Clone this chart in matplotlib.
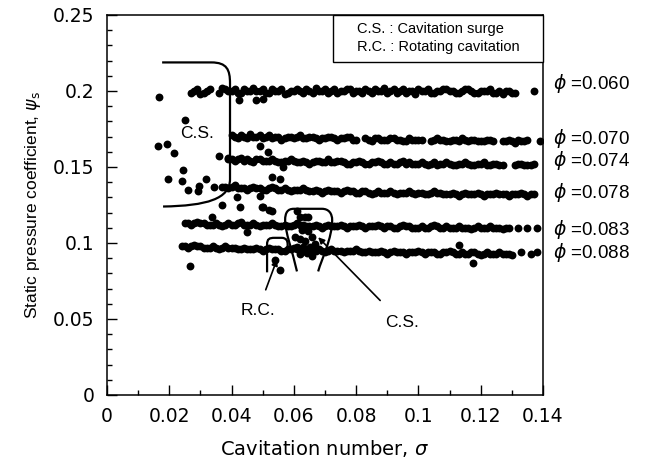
import matplotlib
matplotlib.use("Agg")
from matplotlib import pyplot as plt
from matplotlib.path import Path
from matplotlib.patches import PathPatch, Rectangle
from matplotlib.ticker import MultipleLocator

# 各流量係数ごとの測定点 (キャビテーション数 sigma, 静圧係数 psi_s)
# 帯が太く見えるので a / b の2列に分けて読み取った
sigma_060 = [0.027, 0.029, 0.030, 0.032, 0.033, 0.036, 0.037, 0.039, 0.041,
             0.043, 0.045, 0.047, 0.049, 0.051, 0.053, 0.055, 0.057, 0.059, 0.061,
             0.063, 0.065, 0.067, 0.069, 0.071, 0.073, 0.075, 0.077, 0.079, 0.081,
             0.083, 0.085, 0.087, 0.089, 0.091, 0.093, 0.095, 0.097, 0.099, 0.101,
             0.103, 0.105, 0.107, 0.109, 0.111, 0.113, 0.115, 0.117, 0.119, 0.121,
             0.123, 0.125, 0.127, 0.129, 0.131, 0.137]
psi_060 = [0.199, 0.201, 0.198, 0.200, 0.201, 0.199, 0.202, 0.200, 0.201, 0.199,
           0.200, 0.202, 0.200, 0.199, 0.201, 0.200, 0.198, 0.200, 0.201, 0.199,
           0.200, 0.202, 0.200, 0.199, 0.201, 0.200, 0.201, 0.199, 0.200, 0.201,
           0.199, 0.200, 0.202, 0.200, 0.199, 0.201, 0.200, 0.198, 0.200, 0.201,
           0.199, 0.200, 0.201, 0.200, 0.199, 0.201, 0.200, 0.199, 0.200, 0.201,
           0.199, 0.198, 0.200, 0.199, 0.200]
sigma_060b = [0.028, 0.031, 0.038, 0.040, 0.042, 0.044, 0.046, 0.048, 0.050, 0.052,
              0.054, 0.056, 0.058, 0.060, 0.062, 0.064, 0.066, 0.068, 0.070, 0.072,
              0.074, 0.076, 0.078, 0.080, 0.082, 0.084, 0.086, 0.088, 0.090, 0.092,
              0.094, 0.096, 0.098, 0.100, 0.102, 0.104, 0.106, 0.108, 0.110, 0.112,
              0.114, 0.116, 0.118, 0.120, 0.122, 0.124, 0.126, 0.128, 0.130]
psi_060b = [0.200, 0.199, 0.201, 0.200, 0.199, 0.201, 0.200, 0.200, 0.201, 0.199,
            0.200, 0.201, 0.199, 0.200, 0.200, 0.201, 0.199, 0.200, 0.201, 0.200,
            0.199, 0.200, 0.201, 0.200, 0.199, 0.200, 0.201, 0.200, 0.199, 0.201,
            0.200, 0.199, 0.200, 0.201, 0.200, 0.199, 0.200, 0.201, 0.200, 0.199,
            0.200, 0.201, 0.199, 0.200, 0.200, 0.199, 0.200, 0.200, 0.199]

sigma_070 = [0.040, 0.042, 0.044, 0.046, 0.048, 0.050, 0.052, 0.054, 0.056, 0.058,
             0.060, 0.062, 0.064, 0.066, 0.068, 0.070, 0.072, 0.074, 0.076, 0.078,
             0.080, 0.083, 0.085, 0.087, 0.089, 0.091, 0.093, 0.095, 0.097, 0.099,
             0.101, 0.104, 0.106, 0.108, 0.110, 0.112, 0.114, 0.116, 0.118, 0.120,
             0.122, 0.124, 0.127, 0.129, 0.131, 0.133, 0.135, 0.139]
psi_070 = [0.171, 0.169, 0.170, 0.172, 0.170, 0.169, 0.171, 0.170, 0.168, 0.170,
           0.169, 0.171, 0.169, 0.170, 0.168, 0.169, 0.170, 0.168, 0.169, 0.170,
           0.168, 0.169, 0.167, 0.169, 0.168, 0.169, 0.168, 0.167, 0.169, 0.168,
           0.168, 0.167, 0.169, 0.168, 0.167, 0.168, 0.169, 0.167, 0.168, 0.167,
           0.168, 0.167, 0.167, 0.168, 0.166, 0.167, 0.168, 0.167]
sigma_070b = [0.041, 0.043, 0.045, 0.047, 0.049, 0.051, 0.053, 0.055, 0.057, 0.059,
              0.061, 0.063, 0.065, 0.067, 0.069, 0.071, 0.073, 0.075, 0.077, 0.079,
              0.084, 0.086, 0.088, 0.090, 0.092, 0.094, 0.096, 0.098, 0.100,
              0.105, 0.107, 0.109, 0.111, 0.113, 0.115, 0.117, 0.119, 0.121, 0.123,
              0.128, 0.130, 0.132, 0.134]
psi_070b = [0.170, 0.171, 0.169, 0.170, 0.171, 0.170, 0.169, 0.170, 0.169, 0.170,
            0.170, 0.169, 0.170, 0.169, 0.169, 0.170, 0.169, 0.169, 0.170, 0.168,
            0.168, 0.169, 0.168, 0.168, 0.169, 0.168, 0.167, 0.168, 0.168,
            0.168, 0.168, 0.167, 0.168, 0.167, 0.168, 0.168, 0.167, 0.167, 0.168,
            0.167, 0.167, 0.168, 0.167]

sigma_074 = [0.039, 0.041, 0.043, 0.045, 0.047, 0.049, 0.051, 0.053, 0.055, 0.057,
             0.059, 0.061, 0.063, 0.065, 0.067, 0.069, 0.071, 0.073, 0.075, 0.077,
             0.079, 0.081, 0.083, 0.085, 0.087, 0.089, 0.091, 0.093, 0.095, 0.097,
             0.099, 0.101, 0.103, 0.105, 0.107, 0.109, 0.111, 0.113, 0.115, 0.117,
             0.119, 0.121, 0.123, 0.125, 0.127, 0.131, 0.133, 0.135, 0.137]
psi_074 = [0.155, 0.154, 0.156, 0.155, 0.153, 0.155, 0.154, 0.155, 0.153, 0.154,
           0.155, 0.153, 0.154, 0.152, 0.154, 0.153, 0.155, 0.153, 0.154, 0.152,
           0.153, 0.154, 0.152, 0.153, 0.154, 0.152, 0.153, 0.152, 0.154, 0.153,
           0.152, 0.153, 0.151, 0.153, 0.152, 0.153, 0.151, 0.152, 0.153, 0.151,
           0.152, 0.153, 0.151, 0.152, 0.151, 0.151, 0.152, 0.151, 0.152]
sigma_074b = [0.040, 0.042, 0.044, 0.046, 0.048, 0.050, 0.052, 0.054, 0.056, 0.058,
              0.060, 0.062, 0.064, 0.066, 0.068, 0.070, 0.072, 0.074, 0.076, 0.078,
              0.080, 0.082, 0.084, 0.086, 0.088, 0.090, 0.092, 0.094, 0.096, 0.098,
              0.100, 0.102, 0.104, 0.106, 0.108, 0.110, 0.112, 0.114, 0.116, 0.118,
              0.120, 0.122, 0.124, 0.126, 0.132, 0.134, 0.136]
psi_074b = [0.155, 0.155, 0.154, 0.154, 0.155, 0.154, 0.154, 0.154, 0.153, 0.154,
            0.154, 0.153, 0.153, 0.153, 0.154, 0.153, 0.153, 0.154, 0.153, 0.152,
            0.153, 0.153, 0.152, 0.153, 0.153, 0.152, 0.152, 0.153, 0.152, 0.152,
            0.152, 0.152, 0.152, 0.151, 0.152, 0.152, 0.151, 0.152, 0.152, 0.151,
            0.152, 0.151, 0.152, 0.151, 0.152, 0.151, 0.151]

sigma_078 = [0.037, 0.039, 0.041, 0.043, 0.045, 0.047, 0.049, 0.051, 0.053, 0.055,
             0.057, 0.059, 0.061, 0.063, 0.065, 0.067, 0.069, 0.071, 0.073, 0.075,
             0.077, 0.079, 0.081, 0.083, 0.085, 0.087, 0.089, 0.091, 0.093, 0.095,
             0.097, 0.099, 0.101, 0.103, 0.105, 0.107, 0.109, 0.111, 0.113, 0.115,
             0.117, 0.119, 0.121, 0.123, 0.125, 0.127, 0.129, 0.131, 0.133, 0.135,
             0.137]
psi_078 = [0.137, 0.136, 0.138, 0.136, 0.135, 0.137, 0.136, 0.135, 0.137, 0.135,
           0.136, 0.134, 0.135, 0.136, 0.134, 0.135, 0.133, 0.135, 0.134, 0.133,
           0.135, 0.134, 0.133, 0.134, 0.132, 0.134, 0.133, 0.134, 0.132, 0.133,
           0.134, 0.132, 0.133, 0.132, 0.134, 0.133, 0.132, 0.133, 0.131, 0.133,
           0.132, 0.133, 0.131, 0.132, 0.133, 0.132, 0.131, 0.132, 0.133, 0.131,
           0.132]
sigma_078b = [0.038, 0.040, 0.042, 0.044, 0.046, 0.048, 0.050, 0.052, 0.054, 0.056,
              0.058, 0.060, 0.062, 0.064, 0.066, 0.068, 0.070, 0.072, 0.074, 0.076,
              0.078, 0.080, 0.082, 0.084, 0.086, 0.088, 0.090, 0.092, 0.094, 0.096,
              0.098, 0.100, 0.102, 0.104, 0.106, 0.108, 0.110, 0.112, 0.114, 0.116,
              0.118, 0.120, 0.122, 0.124, 0.126, 0.128, 0.130, 0.132, 0.134, 0.136]
psi_078b = [0.137, 0.137, 0.136, 0.136, 0.136, 0.136, 0.135, 0.136, 0.136, 0.135,
            0.135, 0.135, 0.135, 0.135, 0.134, 0.134, 0.134, 0.134, 0.134, 0.134,
            0.134, 0.133, 0.134, 0.133, 0.133, 0.133, 0.133, 0.133, 0.133, 0.133,
            0.133, 0.133, 0.132, 0.133, 0.133, 0.132, 0.132, 0.132, 0.132, 0.132,
            0.132, 0.132, 0.132, 0.132, 0.132, 0.132, 0.132, 0.132, 0.132, 0.132]

sigma_083 = [0.025, 0.027, 0.029, 0.031, 0.033, 0.035, 0.037, 0.039, 0.041, 0.043,
             0.045, 0.047, 0.049, 0.051, 0.053, 0.055, 0.057, 0.059, 0.061, 0.063,
             0.065, 0.067, 0.069, 0.071, 0.073, 0.075, 0.077, 0.079, 0.081, 0.083,
             0.085, 0.087, 0.089, 0.091, 0.093, 0.095, 0.097, 0.099, 0.101, 0.103,
             0.105, 0.107, 0.109, 0.111, 0.113, 0.115, 0.117, 0.119, 0.121, 0.123,
             0.125, 0.127, 0.129, 0.132, 0.135, 0.138]
psi_083 = [0.113, 0.112, 0.114, 0.113, 0.112, 0.113, 0.111, 0.113, 0.112, 0.114,
           0.112, 0.113, 0.111, 0.112, 0.113, 0.111, 0.112, 0.111, 0.113, 0.112,
           0.111, 0.112, 0.110, 0.112, 0.111, 0.112, 0.110, 0.111, 0.112, 0.110,
           0.111, 0.112, 0.110, 0.111, 0.110, 0.112, 0.111, 0.110, 0.111, 0.110,
           0.112, 0.110, 0.111, 0.110, 0.111, 0.110, 0.109, 0.111, 0.110, 0.111,
           0.110, 0.109, 0.110, 0.110, 0.110, 0.110]
sigma_083b = [0.026, 0.028, 0.030, 0.032, 0.034, 0.036, 0.038, 0.040, 0.042, 0.044,
              0.046, 0.048, 0.050, 0.052, 0.054, 0.056, 0.058, 0.060, 0.062, 0.064,
              0.066, 0.068, 0.070, 0.072, 0.074, 0.076, 0.078, 0.080, 0.082, 0.084,
              0.086, 0.088, 0.090, 0.092, 0.094, 0.096, 0.098, 0.100, 0.102, 0.104,
              0.106, 0.108, 0.110, 0.112, 0.114, 0.116, 0.118, 0.120, 0.122, 0.124,
              0.126, 0.128]
psi_083b = [0.113, 0.113, 0.113, 0.112, 0.112, 0.112, 0.112, 0.112, 0.113, 0.112,
            0.112, 0.112, 0.112, 0.112, 0.112, 0.111, 0.111, 0.112, 0.112, 0.111,
            0.111, 0.111, 0.111, 0.111, 0.111, 0.111, 0.111, 0.111, 0.111, 0.111,
            0.111, 0.111, 0.111, 0.110, 0.111, 0.111, 0.110, 0.110, 0.110, 0.111,
            0.111, 0.110, 0.110, 0.110, 0.110, 0.110, 0.110, 0.110, 0.110, 0.110,
            0.110, 0.110]

sigma_088 = [0.024, 0.026, 0.028, 0.030, 0.032, 0.034, 0.036, 0.038, 0.040, 0.042,
             0.044, 0.046, 0.048, 0.050, 0.052, 0.054, 0.056, 0.058, 0.060, 0.062,
             0.064, 0.066, 0.068, 0.070, 0.072, 0.074, 0.076, 0.078, 0.080, 0.082,
             0.084, 0.086, 0.088, 0.090, 0.092, 0.094, 0.096, 0.098, 0.100, 0.102,
             0.104, 0.106, 0.108, 0.110, 0.112, 0.114, 0.116, 0.118, 0.120, 0.122,
             0.124, 0.126, 0.128, 0.130, 0.133, 0.136, 0.138]
psi_088 = [0.098, 0.097, 0.099, 0.098, 0.097, 0.098, 0.096, 0.098, 0.097, 0.096,
           0.097, 0.096, 0.097, 0.095, 0.097, 0.096, 0.095, 0.096, 0.097, 0.095,
           0.096, 0.095, 0.096, 0.094, 0.096, 0.095, 0.094, 0.095, 0.096, 0.094,
           0.095, 0.094, 0.095, 0.093, 0.095, 0.094, 0.093, 0.094, 0.095, 0.093,
           0.094, 0.093, 0.094, 0.095, 0.093, 0.094, 0.093, 0.094, 0.092, 0.094,
           0.093, 0.094, 0.093, 0.092, 0.094, 0.093, 0.094]
sigma_088b = [0.025, 0.027, 0.029, 0.031, 0.033, 0.035, 0.037, 0.039, 0.041, 0.043,
              0.045, 0.047, 0.049, 0.051, 0.053, 0.055, 0.057, 0.059, 0.061, 0.063,
              0.065, 0.067, 0.069, 0.071, 0.073, 0.075, 0.077, 0.079, 0.081, 0.083,
              0.085, 0.087, 0.089, 0.091, 0.093, 0.095, 0.097, 0.099, 0.101, 0.103,
              0.105, 0.107, 0.109, 0.111, 0.113, 0.115, 0.117, 0.119, 0.121, 0.123,
              0.125, 0.127, 0.129]
psi_088b = [0.098, 0.098, 0.098, 0.097, 0.097, 0.097, 0.097, 0.097, 0.097, 0.096,
            0.096, 0.096, 0.096, 0.096, 0.096, 0.096, 0.095, 0.096, 0.096, 0.095,
            0.095, 0.095, 0.095, 0.095, 0.095, 0.095, 0.095, 0.095, 0.095, 0.094,
            0.094, 0.094, 0.094, 0.094, 0.094, 0.094, 0.094, 0.094, 0.094, 0.094,
            0.094, 0.093, 0.094, 0.094, 0.093, 0.093, 0.094, 0.093, 0.093, 0.093,
            0.093, 0.093, 0.093]

# 帯から外れた点 (キャビテーションサージ・旋回キャビテーション域)
sigma_other = [0.0167, 0.0250, 0.0164, 0.0193, 0.0215, 0.0360, 0.0389, 0.0244,
               0.0196, 0.0241, 0.0318, 0.0260, 0.0295, 0.0292, 0.0344, 0.0369,
               0.0427, 0.0424, 0.0480, 0.0417, 0.0500, 0.0520, 0.0337, 0.0450,
               0.0267, 0.1130, 0.1175, 0.0500, 0.0491, 0.0517, 0.0565, 0.0530,
               0.0556, 0.0491, 0.0498, 0.0530, 0.0610, 0.0620, 0.0636, 0.0646,
               0.0604, 0.0620, 0.0636, 0.0658, 0.0610, 0.0630, 0.0652, 0.0668,
               0.0620, 0.0642, 0.0658, 0.0646, 0.0626, 0.0540, 0.0556]
psi_other = [0.196, 0.181, 0.164, 0.165, 0.159, 0.157, 0.156, 0.148,
             0.142, 0.141, 0.142, 0.135, 0.1376, 0.1343, 0.137, 0.125,
             0.124, 0.194, 0.194, 0.130, 0.124, 0.122, 0.117, 0.107,
             0.0847, 0.0985, 0.087, 0.195, 0.164, 0.160, 0.150, 0.1435,
             0.142, 0.131, 0.1237, 0.121, 0.1210, 0.1170, 0.1170, 0.1170,
             0.1040, 0.1025, 0.1012, 0.1040, 0.0972, 0.0972, 0.0972, 0.0992,
             0.0926, 0.0932, 0.0912, 0.1078, 0.1085, 0.0886, 0.0820]

phi_labels = ["0.060", "0.070", "0.074", "0.078", "0.083", "0.088"]
phi_label_psi = [0.205, 0.169, 0.1545, 0.1335, 0.109, 0.094]

# 注釈の形 (データ座標)
cs_left_x = [0.0177, 0.0335, 0.0385, 0.0395, 0.0395, 0.0395, 0.0395, 0.0320, 0.0180]
cs_left_y = [0.2188, 0.2188, 0.2188, 0.2140, 0.2050, 0.1420, 0.1290, 0.1245, 0.1240]
rc_x = [0.0514, 0.0514, 0.0514, 0.0522, 0.0538, 0.0562, 0.0576, 0.0580, 0.0580, 0.0580]
rc_y = [0.0807, 0.0990, 0.1028, 0.1034, 0.1034, 0.1034, 0.1032, 0.1015, 0.0990, 0.0945]
cs_bell_x = [0.0610, 0.0595, 0.0572, 0.0572, 0.0572, 0.0580, 0.0600, 0.0690,
             0.0712, 0.0723, 0.0723, 0.0723, 0.0690, 0.0678]
cs_bell_y = [0.0813, 0.0950, 0.1070, 0.1150, 0.1200, 0.1225, 0.1225, 0.1225,
             0.1225, 0.1195, 0.1150, 0.1030, 0.0900, 0.0813]

fig = plt.figure(figsize=(6.47, 4.66), dpi=100)
ax = fig.add_axes([107 / 647, 1 - 395 / 466, 436 / 647, 380 / 466])

for xs, ys in [(sigma_060, psi_060), (sigma_060b, psi_060b),
               (sigma_070, psi_070), (sigma_070b, psi_070b),
               (sigma_074, psi_074), (sigma_074b, psi_074b),
               (sigma_078, psi_078), (sigma_078b, psi_078b),
               (sigma_083, psi_083), (sigma_083b, psi_083b),
               (sigma_088, psi_088), (sigma_088b, psi_088b),
               (sigma_other, psi_other)]:
    ax.scatter(xs, ys, s=32, c="black", linewidths=0, zorder=2)

# C.S. / R.C. の囲み線
C4, L = Path.CURVE4, Path.LINETO
codes = [Path.MOVETO, L, C4, C4, C4, L, C4, C4, C4]
ax.add_patch(PathPatch(Path(list(zip(cs_left_x, cs_left_y)), codes),
                       fill=False, lw=1.6, color="black", zorder=3))
codes = [Path.MOVETO, L, C4, C4, C4, L, C4, C4, C4, L]
ax.add_patch(PathPatch(Path(list(zip(rc_x, rc_y)), codes),
                       fill=False, lw=1.6, color="black", zorder=3))
codes = [Path.MOVETO, C4, C4, C4, C4, C4, C4, L, C4, C4, C4, C4, C4, C4]
ax.add_patch(PathPatch(Path(list(zip(cs_bell_x, cs_bell_y)), codes),
                       fill=False, lw=1.6, color="black", zorder=3))

ann = dict(fontsize=12.5, family="Liberation Sans", ha="center", va="center")
ax.text(0.0289, 0.172, "C.S.", **ann)
ax.annotate("R.C.", xy=(0.0546, 0.0893), xytext=(0.0485, 0.0556),
            arrowprops=dict(arrowstyle="-|>", lw=1.2, color="black",
                            shrinkA=8, shrinkB=0, mutation_scale=9), **ann)
ax.annotate("C.S.", xy=(0.0678, 0.1038), xytext=(0.0947, 0.0476),
            arrowprops=dict(arrowstyle="-|>", lw=1.2, color="black",
                            shrinkA=12, shrinkB=0, mutation_scale=9), **ann)

# 右側の流量係数ラベル
for lab, yv in zip(phi_labels, phi_label_psi):
    ax.text(1.023, yv, r"$\phi$ =" + lab, transform=ax.get_yaxis_transform(),
            fontsize=13.5, family="Liberation Sans", va="center", ha="left")

# 凡例ボックス
ax.add_patch(Rectangle((0.518, 0.876), 0.482, 0.124, transform=ax.transAxes,
                       facecolor="white", edgecolor="black", lw=1.0, zorder=4,
                       clip_on=False))
ax.text(0.573, 0.962, "C.S. : Cavitation surge", transform=ax.transAxes,
        fontsize=10.5, family="Liberation Sans", va="center", zorder=5)
ax.text(0.573, 0.915, "R.C. : Rotating cavitation", transform=ax.transAxes,
        fontsize=10.5, family="Liberation Sans", va="center", zorder=5)

ax.set_xlim(0, 0.14)
ax.set_ylim(0, 0.25)
ax.set_xticks([0, 0.02, 0.04, 0.06, 0.08, 0.1, 0.12, 0.14])
ax.set_xticklabels(["0", "0.02", "0.04", "0.06", "0.08", "0.1", "0.12", "0.14"])
ax.set_yticks([0, 0.05, 0.1, 0.15, 0.2, 0.25])
ax.set_yticklabels(["0", "0.05", "0.1", "0.15", "0.2", "0.25"])
ax.xaxis.set_minor_locator(MultipleLocator(0.01))
ax.yaxis.set_minor_locator(MultipleLocator(0.01))
ax.tick_params(which="both", direction="in", labelsize=13.5, width=1.0)
ax.tick_params(which="major", length=7)
ax.tick_params(which="minor", length=3.5)
ax.tick_params(axis="x", pad=9)
ax.tick_params(axis="y", pad=9)
for sp in ax.spines.values():
    sp.set_linewidth(1.1)

ax.set_xlabel(r"Cavitation number, $\sigma$", fontsize=14, labelpad=8)
ax.set_ylabel(r"Static pressure coefficient, $\psi_{\rm s}$", fontsize=12.5,
              family="Liberation Sans", labelpad=7)

fig.savefig("out.png", dpi=100)
